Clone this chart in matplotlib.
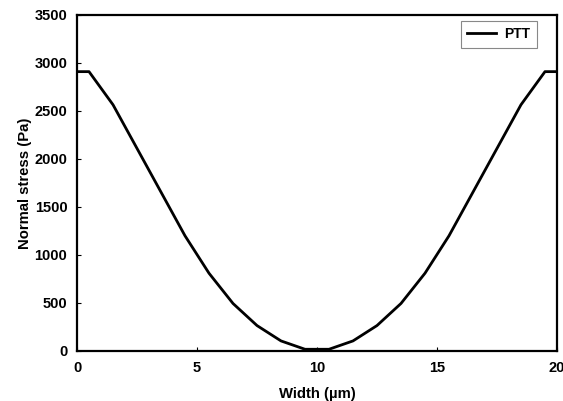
import numpy as np
import matplotlib.pyplot as plt

plt.rcParams['font.family'] = ['Liberation Sans', 'DejaVu Sans']
plt.rcParams['font.weight'] = 'bold'

# normal stress across the channel width (PTT model)
width = [0, 0.5, 1.5, 2.5, 3.5, 4.5, 5.5, 6.5, 7.5, 8.5, 9.5, 10.0,
         10.5, 11.5, 12.5, 13.5, 14.5, 15.5, 16.5, 17.5, 18.5, 19.5, 20]
stress = [2910, 2910, 2565, 2110, 1655, 1200, 810, 495, 265, 105, 18, 18,
          18, 105, 265, 495, 810, 1200, 1655, 2110, 2565, 2910, 2910]

fig = plt.figure(figsize=(5.63, 4.01), dpi=100)
ax = fig.add_axes([0.1368, 0.1247, 0.8525, 0.8379])

ax.plot(width, stress, color='black', linewidth=2.0, label='PTT')

ax.set_xlim(0, 20)
ax.set_ylim(0, 3500)
ax.set_xticks([0, 5, 10, 15, 20])
ax.set_yticks(np.arange(0, 3501, 500))
ax.tick_params(direction='in', length=3, width=0.8, labelsize=10.5, pad=7)
for lab in ax.get_xticklabels() + ax.get_yticklabels():
    lab.set_fontweight('bold')
for sp in ax.spines.values():
    sp.set_linewidth(1.6)

ax.set_xlabel('Width (µm)', fontsize=10.7, fontweight='bold', labelpad=9)
ax.set_ylabel('Normal stress (Pa)', fontsize=10.7, fontweight='bold', labelpad=2)

leg = ax.legend(loc='upper right', bbox_to_anchor=(0.958, 0.982), borderaxespad=0,
                fancybox=False, edgecolor='#888888', framealpha=1, fontsize=10,
                handlelength=2.1, borderpad=0.45, handletextpad=0.6)
leg.get_frame().set_linewidth(0.8)
for t in leg.get_texts():
    t.set_fontweight('bold')

fig.savefig('out.png', dpi=100)
